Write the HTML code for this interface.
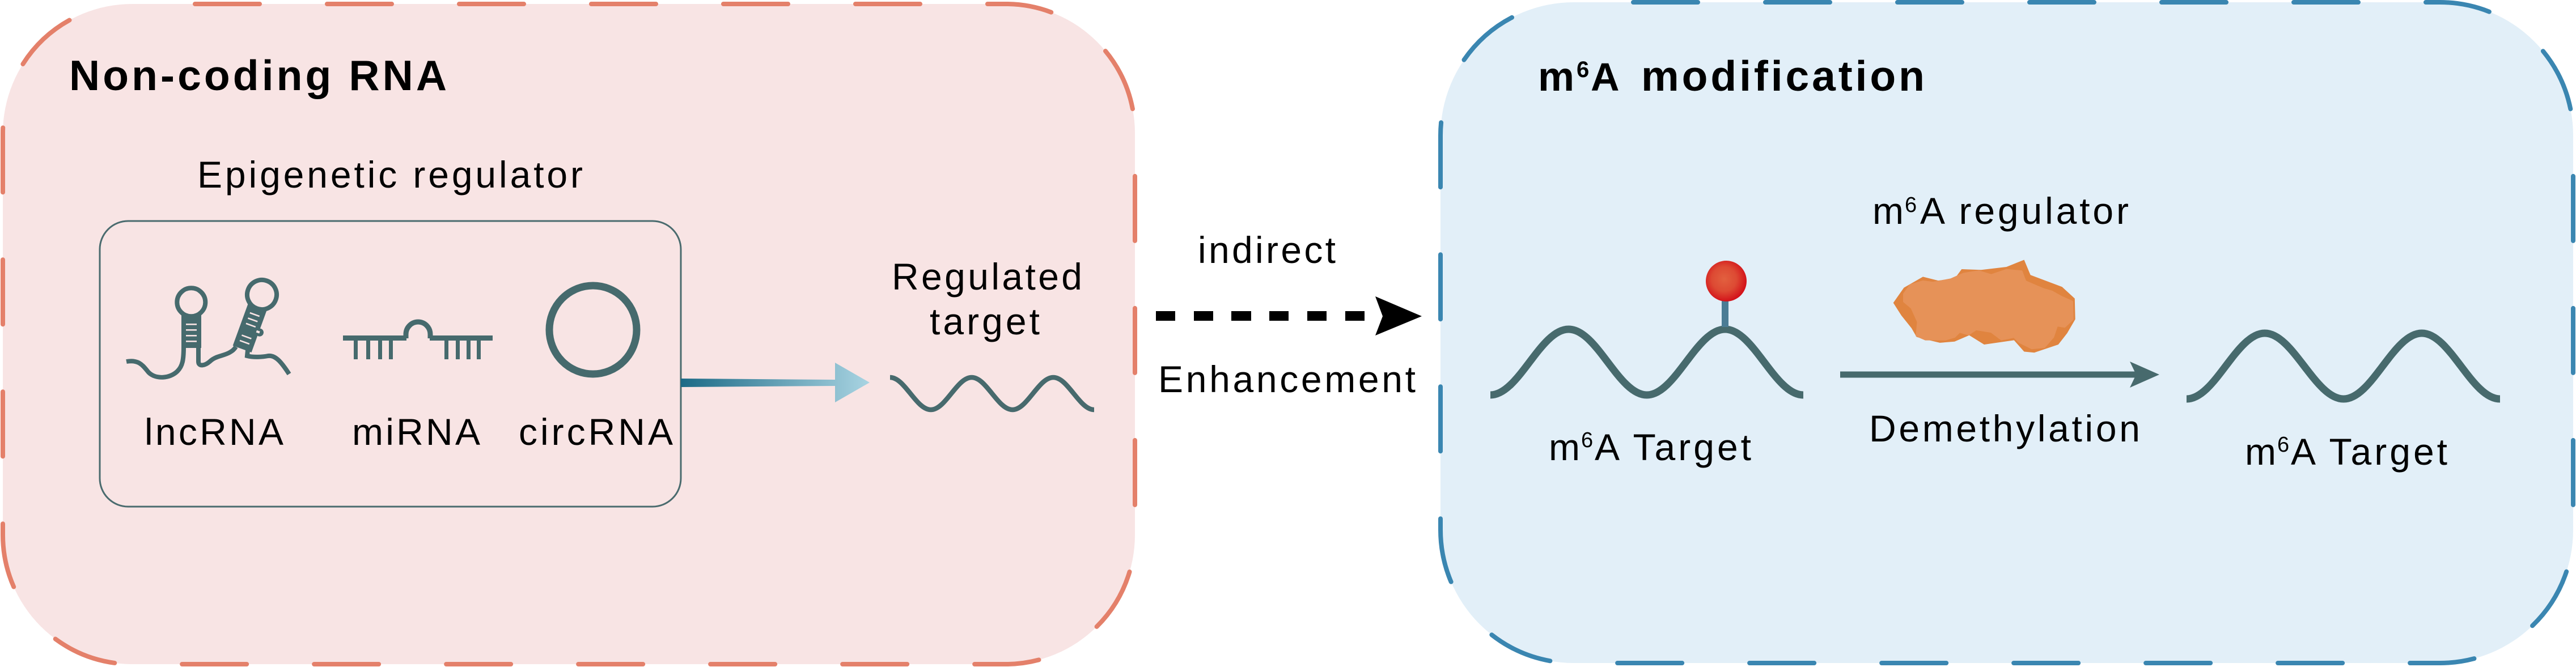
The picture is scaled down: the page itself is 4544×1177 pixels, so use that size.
<!DOCTYPE html>
<html>
<head>
<meta charset="utf-8">
<style>
html,body{margin:0;padding:0;background:#ffffff;width:4544px;height:1177px;overflow:hidden}
svg{display:block}
</style>
</head>
<body>
<svg width="4544" height="1177" viewBox="0 0 4544 1177" xmlns="http://www.w3.org/2000/svg" style="font-family:'Liberation Sans', Arial, sans-serif">
  <defs>
    <linearGradient id="ag" gradientUnits="userSpaceOnUse" x1="1201" y1="0" x2="1534" y2="0">
      <stop offset="0" stop-color="#1C6A86"/>
      <stop offset="1" stop-color="#A9D4E2"/>
    </linearGradient>
    <radialGradient id="rd" cx="0.45" cy="0.45" r="0.55">
      <stop offset="0" stop-color="#E2603F"/>
      <stop offset="0.55" stop-color="#DD4A33"/>
      <stop offset="1" stop-color="#D3121A"/>
    </radialGradient>
  </defs>

  <!-- Left panel -->
  <rect x="5" y="7" width="1997" height="1165" rx="228" ry="228" fill="#F8E4E4" stroke="#E4806A" stroke-width="8" stroke-dasharray="114 119" stroke-dashoffset="122" stroke-linecap="round"/>

  <!-- Right panel -->
  <rect x="2541" y="4" width="1998" height="1166" rx="235" ry="235" fill="#E2EFF8" stroke="#3A86B1" stroke-width="8" stroke-dasharray="114 119" stroke-dashoffset="128" stroke-linecap="round"/>

  <!-- Titles -->
  <text x="122" y="159" font-size="75" font-weight="bold" fill="#000" textLength="666" lengthAdjust="spacing">Non-coding RNA</text>

  <text x="2713" y="160" font-size="72" font-weight="bold" fill="#000">m</text>
  <text x="2781" y="136" font-size="40" font-weight="bold" fill="#000">6</text>
  <text x="2806" y="160" font-size="70" font-weight="bold" fill="#000">A</text>
  <text x="2895" y="160" font-size="75" font-weight="bold" fill="#000" textLength="500" lengthAdjust="spacing">modification</text>

  <!-- Epigenetic regulator -->
  <text x="348" y="331" font-size="66" fill="#000" textLength="680" lengthAdjust="spacing">Epigenetic regulator</text>

  <!-- Inner box -->
  <rect x="176" y="390" width="1025" height="504" rx="50" ry="50" fill="none" stroke="#4A6B6E" stroke-width="3"/>

  <!-- lncRNA icon -->
  <g fill="none" stroke="#466A6D" stroke-width="8" stroke-linecap="butt">
    <circle cx="337.3" cy="533.3" r="25"/>
    <path d="M223,638 C245,634 252,645 262,657 C275,670 300,668 313,655 C322,646 324,635 324,612"/>
    <path d="M350,612 L350,638 C350,648 362,645 370,638 C380,628 395,628 405,622 C410,619 413,617 416,612"/>
    <path d="M437,618 L436,628 C447,631 463,630 473,628 C486,626 497,640 510,660"/>
  </g>
  <rect x="320" y="556" width="35" height="58" fill="#466A6D"/>
  <g fill="#F8E4E4">
    <rect x="328" y="571" width="19" height="2.6"/>
    <rect x="328" y="581" width="19" height="2.6"/>
    <rect x="328" y="591" width="19" height="2.6"/>
    <rect x="328" y="601" width="19" height="2.6"/>
  </g>
  <g transform="translate(462,520) rotate(20)">
    <circle cx="0" cy="0" r="26" fill="none" stroke="#466A6D" stroke-width="8"/>
    <rect x="-17.5" y="22" width="35" height="80" fill="#466A6D"/>
    <circle cx="19" cy="64" r="7" fill="#466A6D"/>
    <rect x="13" y="62" width="6" height="4" fill="#F8E4E4"/>
    <g fill="#F8E4E4">
      <rect x="-9" y="36" width="18" height="2.6"/>
      <rect x="-9" y="46" width="18" height="2.6"/>
      <rect x="-9" y="56" width="18" height="2.6"/>
      <rect x="-9" y="78" width="18" height="2.6"/>
      <rect x="-9" y="88" width="18" height="2.6"/>
    </g>
  </g>

  <!-- miRNA icon -->
  <g fill="#466A6D">
    <rect x="605" y="592" width="112" height="9"/>
    <rect x="758" y="592" width="111" height="9"/>
    <rect x="624" y="600" width="7" height="34"/>
    <rect x="646" y="600" width="7" height="34"/>
    <rect x="667" y="600" width="7" height="34"/>
    <rect x="686" y="600" width="7" height="34"/>
    <rect x="784" y="600" width="7" height="34"/>
    <rect x="804" y="600" width="7" height="34"/>
    <rect x="823" y="600" width="7" height="34"/>
    <rect x="841" y="600" width="7" height="34"/>
  </g>
  <path d="M716,597 L716,590 A21.5,22 0 0 1 759,590 L759,597" fill="none" stroke="#466A6D" stroke-width="9"/>

  <!-- circRNA icon -->
  <ellipse cx="1046" cy="582" rx="77" ry="78" fill="none" stroke="#466A6D" stroke-width="13"/>

  <!-- icon labels -->
  <text x="255" y="785" font-size="66" fill="#000" textLength="245" lengthAdjust="spacing">lncRNA</text>
  <text x="621" y="785" font-size="66" fill="#000" textLength="226" lengthAdjust="spacing">miRNA</text>
  <text x="915" y="785" font-size="66" fill="#000" textLength="272" lengthAdjust="spacing">circRNA</text>

  <!-- gradient arrow -->
  <path d="M1201,668 L1473,670 L1473,640 L1534,675 L1473,710 L1473,681 L1201,683 Z" fill="url(#ag)"/>

  <!-- Regulated target -->
  <text x="1573" y="511" font-size="66" fill="#000" textLength="336" lengthAdjust="spacing">Regulated</text>
  <text x="1640" y="590" font-size="66" fill="#000" textLength="194" lengthAdjust="spacing">target</text>
  <path d="M1570,666 C1596.2,666 1615.8,723 1642,723 C1668.2,723 1687.8,666 1714,666 C1740.2,666 1759.8,723 1786,723 C1812.2,723 1831.8,666 1858,666 C1884.2,666 1903.8,723 1930,723" fill="none" stroke="#476A6D" stroke-width="8.5"/>

  <!-- indirect dashed arrow -->
  <text x="2113" y="464" font-size="66" fill="#000" textLength="243" lengthAdjust="spacing">indirect</text>
  <g fill="#000">
    <rect x="2039" y="549" width="34" height="17"/>
    <rect x="2106" y="549" width="34" height="17"/>
    <rect x="2172" y="549" width="35" height="17"/>
    <rect x="2239" y="549" width="34" height="17"/>
    <rect x="2306" y="549" width="34" height="17"/>
    <rect x="2373" y="549" width="34" height="17"/>
    <polygon points="2426,523 2508,558 2426,592 2439,558"/>
  </g>
  <text x="2043" y="692" font-size="66" fill="#000" textLength="454" lengthAdjust="spacing">Enhancement</text>

  <!-- Left m6A target wave -->
  <path d="M2629,697 C2679.2,697 2716.8,581 2767,581 C2817.2,581 2854.8,697 2905,697 C2955.2,697 2992.8,581 3043,581 C3093.2,581 3130.8,697 3181,697" fill="none" stroke="#476A6D" stroke-width="13"/>
  <rect x="3037" y="531" width="12" height="46" fill="#4B7C95"/>
  <circle cx="3045" cy="496" r="36" fill="url(#rd)"/>

  <text x="2732" y="812" font-size="66" fill="#000">m</text>
  <text x="2789" y="789" font-size="38" fill="#000">6</text>
  <text x="2813" y="812" font-size="66" fill="#000" textLength="276" lengthAdjust="spacing">A Target</text>

  <!-- m6A regulator -->
  <text x="3303" y="395" font-size="66" fill="#000">m</text>
  <text x="3360" y="374" font-size="38" fill="#000">6</text>
  <text x="3387" y="395" font-size="66" fill="#000" textLength="368" lengthAdjust="spacing">A regulator</text>

  <!-- blob -->
  <polygon fill="#E0843F" points="3339.7,534.4 3358.5,507.6 3392,488.4 3418.8,495.1 3447.8,492 3460.3,475 3494.6,476.3 3539.3,471 3570.5,458.5 3581.7,485.3 3637.5,506.3 3659.8,526.8 3660.7,563.4 3646.4,588 3630.8,608 3588.4,622.3 3570.5,620.5 3552.7,600.4 3500,608 3473.7,591.6 3447.8,602.7 3421.9,604.9 3394.2,598.2 3380.8,594.6 3371.9,579.1 3354,556.7"/>
  <polygon fill="#E69258" stroke="#E69258" stroke-width="3" stroke-linejoin="round" points="3358.5,518.8 3369.6,503.1 3392,496.4 3409.8,498.7 3441.1,492.9 3463.4,483 3490.2,478.6 3512.5,485.3 3539.3,476.3 3566.1,478.6 3572.8,496.4 3588.4,503.1 3604,509.8 3619.6,514.3 3635.3,523.2 3655.4,532.1 3656.3,563.4 3642,576.8 3628.6,574.6 3621.9,594.6 3606.3,612.5 3583.9,614.7 3561.6,603.6 3552.7,594.6 3530.4,599.1 3512.5,585.7 3485.7,581.3 3472.3,590.2 3456.7,585.7 3447.8,594.6 3432.1,599.1 3414.3,599.1 3396.4,599.1 3380.8,592.4 3383,567.9 3371.9,543.3 3358.5,532.1"/>

  <!-- Demethylation arrow -->
  <line x1="3246" y1="661" x2="3770" y2="661" stroke="#476A6D" stroke-width="11"/>
  <polygon points="3757,638 3809,661 3757,684 3768,661" fill="#476A6D"/>
  <text x="3297" y="779" font-size="66" fill="#000" textLength="478" lengthAdjust="spacing">Demethylation</text>

  <!-- Right m6A target wave -->
  <path d="M3857,704 C3907.2,704 3944.8,588 3995,588 C4045.2,588 4083.8,704 4134,704 C4184.2,704 4221.8,588 4272,588 C4322.2,588 4359.8,704 4410,704" fill="none" stroke="#476A6D" stroke-width="13"/>

  <text x="3960" y="820" font-size="66" fill="#000">m</text>
  <text x="4017" y="797" font-size="38" fill="#000">6</text>
  <text x="4041" y="820" font-size="66" fill="#000" textLength="276" lengthAdjust="spacing">A Target</text>
</svg>
</body>
</html>
